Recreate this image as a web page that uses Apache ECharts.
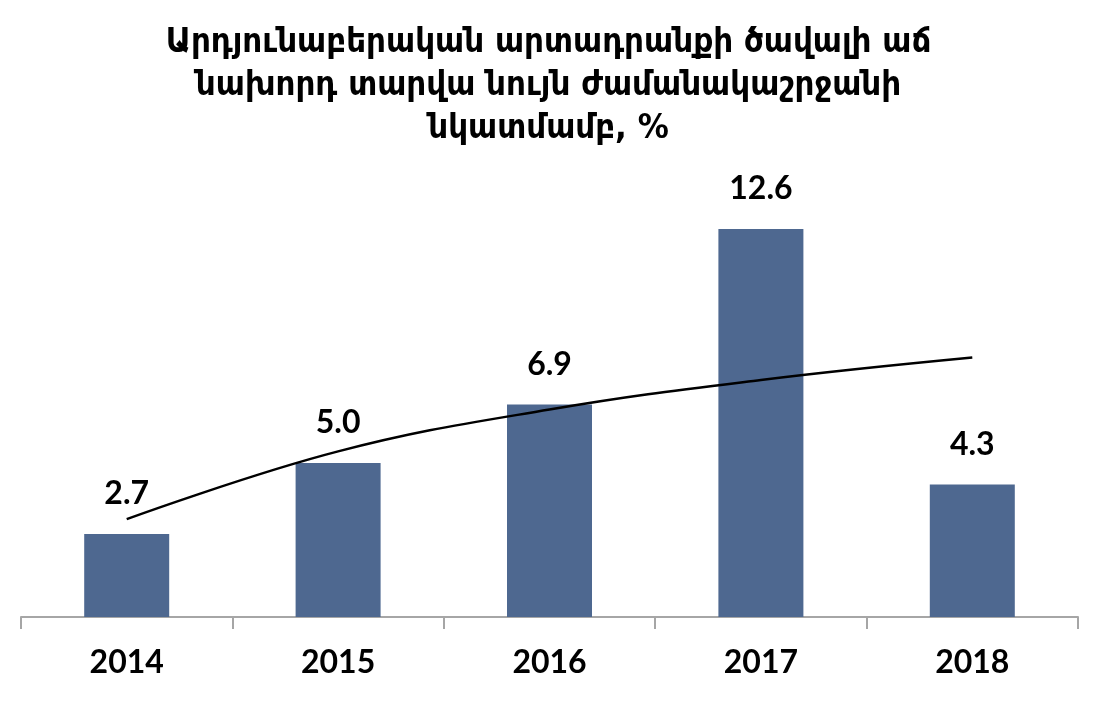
<!DOCTYPE html>
<html><head><meta charset="utf-8">
<script src="https://cdn.jsdelivr.net/npm/echarts@6/dist/echarts.min.js"></script>
<style>html,body{margin:0;padding:0;background:#fff}#c{width:1097px;height:704px}</style>
</head><body><div id="c"></div>
<script>
const categories = ['2014', '2015', '2016', '2017', '2018'];
const growth = [2.7, 5.0, 6.9, 12.6, 4.3];
const trend = [3.18, 5.38, 6.74, 7.70, 8.43];
const titleLines = ['Արդյունաբերական արտադրանքի ծավալի աճ', 'նախորդ տարվա նույն ժամանակաշրջանի', 'նկատմամբ, %'];

const chart = echarts.init(document.getElementById('c'));
chart.setOption({
  backgroundColor: '#fff',
  animation: false,
  title: {
    text: titleLines.join('\n'),
    left: 'center', top: 17,
    textStyle: { fontFamily: '"DejaVu Sans Condensed", "DejaVu Sans"', fontWeight: 'bold', fontSize: 34.5, lineHeight: 43, color: '#000' }
  },
  grid: { left: 21, right: 19, top: 186, bottom: 87 },
  xAxis: {
    type: 'category', data: categories,
    axisLine: { lineStyle: { color: '#A6A6A6', width: 2 } },
    axisTick: { show: true, length: 12, lineStyle: { color: '#A6A6A6', width: 2 } },
    axisLabel: { margin: 30, fontFamily: 'Lato', fontWeight: 'bold', fontSize: 32, color: '#000' }
  },
  yAxis: { type: 'value', min: 0, max: 14, show: false, splitLine: { show: false } },
  series: [
    {
      type: 'bar', data: growth, barWidth: 85,
      itemStyle: { color: '#4E6890' },
      label: { show: true, position: 'top', distance: 24, formatter: p => p.value.toFixed(1),
        fontFamily: 'Lato', fontWeight: 'bold', fontSize: 32, color: '#000' }
    },
    {
      type: 'line', data: trend, smooth: 0.4, symbol: 'none',
      lineStyle: { color: '#000', width: 2.5 }, z: 5
    }
  ]
});
</script></body></html>
